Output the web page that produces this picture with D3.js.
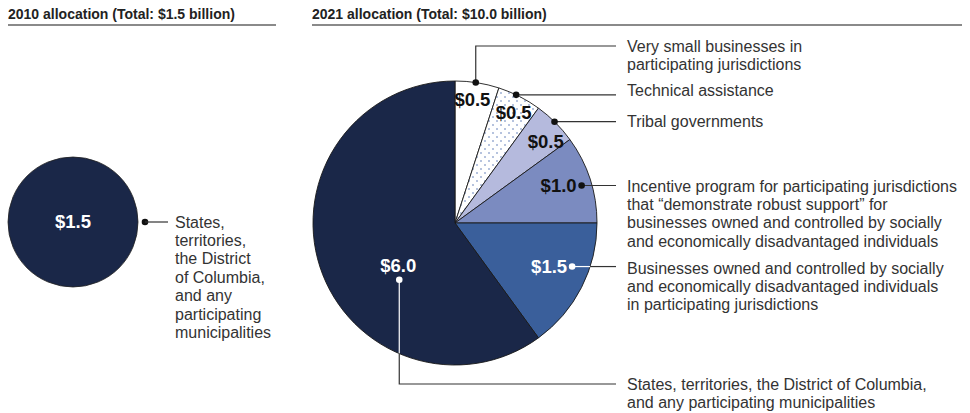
<!DOCTYPE html>
<meta charset="utf-8">
<style>
body { margin: 0; background: #fff; }
svg text { font-family: "Liberation Sans", Arial, sans-serif; }
.title { font-size: 14px; font-weight: bold; fill: #222; }
.rule { stroke: #8a8a8a; stroke-width: 2; }
.desc { font-size: 16px; fill: #333; }
.val { font-size: 18.5px; font-weight: bold; }
.leader { stroke: #333; stroke-width: 1.2; fill: none; }
</style>
<svg class="chart" width="970" height="413"></svg>
<script src="https://d3js.org/d3.v7.min.js"></script>
<script>
// 2010
var values2010 = [1.5];
var labels2010 = ["States,", "territories,", "the District", "of Columbia,", "and any", "participating", "municipalities"];

// 2021, clockwise from 12 o'clock
var values2021 = [0.5, 0.5, 0.5, 1.0, 1.5, 6.0];
var labels2021 = [
  ["Very small businesses in", "participating jurisdictions"],
  ["Technical assistance"],
  ["Tribal governments"],
  ["Incentive program for participating jurisdictions", "that \u201cdemonstrate robust support\u201d for", "businesses owned and controlled by socially", "and economically disadvantaged individuals"],
  ["Businesses owned and controlled by socially", "and economically disadvantaged individuals", "in participating jurisdictions"],
  ["States, territories, the District of Columbia,", "and any participating municipalities"]
];
var titles = ["2010 allocation (Total: $1.5 billion)", "2021 allocation (Total: $10.0 billion)"];

var fills = ["#ffffff", "url(#dots)", "#b5badd", "#7b8bc0", "#3a5f9b", "#1a2748"];
var valColors = ["#111", "#111", "#111", "#111", "#fff", "#fff"];

var svg = d3.select("svg.chart");
var defs = svg.append("defs");
var pat = defs.append("pattern").attr("id", "dots").attr("patternUnits", "userSpaceOnUse")
  .attr("width", 8).attr("height", 8);
pat.append("rect").attr("width", 8).attr("height", 8).attr("fill", "#fff");
pat.append("circle").attr("cx", 2).attr("cy", 2).attr("r", 0.8).attr("fill", "#5a78b5");
pat.append("circle").attr("cx", 6).attr("cy", 6).attr("r", 0.8).attr("fill", "#5a78b5");

// titles + rules
var titleX = [8, 312], ruleEnd = [276, 962];
titles.forEach(function(t, i) {
  svg.append("text").attr("class", "title").attr("x", titleX[i]).attr("y", 19).text(t);
  svg.append("line").attr("class", "rule").attr("x1", titleX[i]).attr("x2", ruleEnd[i])
    .attr("y1", 25).attr("y2", 25);
});

var textX = 627, lineEnd = 616, lh = 18.4;

function block(lines, y) {
  var t = svg.append("text").attr("class", "desc");
  lines.forEach(function(l, i) {
    t.append("tspan").attr("x", textX).attr("y", y + i * lh).attr("dy", "0.35em").text(l);
  });
  return t;
}

// ---- 2010 circle
var c0 = {x: 73, y: 222};
var r0 = 65;
svg.append("circle").attr("cx", c0.x).attr("cy", c0.y).attr("r", r0)
  .attr("fill", fills[5]).attr("stroke", "#222").attr("stroke-width", 0.8);
svg.append("text").attr("class", "val").attr("x", c0.x).attr("y", c0.y).attr("dy", "0.35em")
  .attr("text-anchor", "middle").attr("fill", "#fff").text("$" + values2010[0].toFixed(1));
svg.append("circle").attr("cx", c0.x + r0 + 7).attr("cy", c0.y).attr("r", 3.3).attr("fill", "#111");
svg.append("line").attr("class", "leader").attr("x1", c0.x + r0 + 7).attr("x2", 168)
  .attr("y1", c0.y).attr("y2", c0.y);
var t0 = svg.append("text").attr("class", "desc");
labels2010.forEach(function(l, i) {
  t0.append("tspan").attr("x", 175).attr("y", c0.y + i * lh).attr("dy", "0.35em").text(l);
});

// ---- 2021 pie
var c1 = {x: 455, y: 223};
var R = 142;
var pie = d3.pie().sort(null).startAngle(0).endAngle(2 * Math.PI);
var arcs = pie(values2021);
var arc = d3.arc().innerRadius(0).outerRadius(R);
var g = svg.append("g").attr("transform", "translate(" + c1.x + "," + c1.y + ")");

g.selectAll("path.slice").data(arcs).enter().append("path")
  .attr("class", "slice")
  .attr("d", arc)
  .attr("fill", function(d, i) { return fills[i]; })
  .attr("stroke", "#1a1a1a").attr("stroke-width", 0.9);

function mid(d) { return (d.startAngle + d.endAngle) / 2; }
var deg = Math.PI / 180;

// value label / dot placement per slice: [labelAngle, labelRadius, dotAngle, dotRadius]
var place = [
  [mid(arcs[0]) - 1 * deg, 0.88, mid(arcs[0]) - 0.6 * deg, 1.0],
  [mid(arcs[1]) + 1 * deg, 0.88, mid(arcs[1]) - 1.5 * deg, 1.0],
  [mid(arcs[2]) + 3 * deg, 0.86, mid(arcs[2]) - 0.5 * deg, 1.0],
  [null, 0, 73.5 * deg, 0.93],
  [null, 0, 110.4 * deg, 0.88],
  [233 * deg, 0.5, 224.5 * deg, 0.56]
];

var labelY = [46, 90, 121, 186, 268, 384];

arcs.forEach(function(d, i) {
  var p = place[i];
  var dot = d3.pointRadial(p[2], p[3] * R);
  var val = "$" + d.value.toFixed(1);

  // leader
  if (i === 0) {
    g.append("path").attr("class", "leader")
      .attr("d", "M" + dot[0] + "," + dot[1] + "V" + (labelY[0] - c1.y) + "H" + (lineEnd - c1.x));
  } else if (i === 5) {
    // white inside the pie, dark outside
    var bottom = labelY[5] - c1.y;
    var exitY = Math.sqrt(R * R - dot[0] * dot[0]);
    g.append("line").attr("x1", dot[0]).attr("x2", dot[0]).attr("y1", dot[1]).attr("y2", exitY)
      .attr("stroke", "#fff").attr("stroke-width", 1.2);
    g.append("path").attr("class", "leader")
      .attr("d", "M" + dot[0] + "," + exitY + "V" + bottom + "H" + (lineEnd - c1.x));
  } else if (i === 4) {
    var edgeX = Math.sqrt(R * R - dot[1] * dot[1]);
    g.append("line").attr("x1", dot[0]).attr("x2", edgeX).attr("y1", dot[1]).attr("y2", dot[1])
      .attr("stroke", "#fff").attr("stroke-width", 1.2);
    g.append("line").attr("class", "leader").attr("x1", edgeX).attr("x2", lineEnd - c1.x)
      .attr("y1", dot[1]).attr("y2", dot[1]);
  } else {
    g.append("line").attr("class", "leader").attr("x1", dot[0]).attr("x2", lineEnd - c1.x)
      .attr("y1", dot[1]).attr("y2", dot[1]);
  }
  g.append("circle").attr("cx", dot[0]).attr("cy", dot[1]).attr("r", 3.3)
    .attr("fill", i >= 4 ? "#fff" : "#111");

  // value label
  var vt = g.append("text").attr("class", "val").attr("fill", valColors[i]).text(val);
  if (p[0] !== null) {
    var lp = d3.pointRadial(p[0], p[1] * R);
    vt.attr("x", lp[0]).attr("y", lp[1]).attr("dy", "0.35em").attr("text-anchor", "middle");
  } else {
    vt.attr("x", dot[0] - 5).attr("y", dot[1]).attr("dy", "0.35em").attr("text-anchor", "end");
  }

  block(labels2021[i], labelY[i]);
});
</script>
